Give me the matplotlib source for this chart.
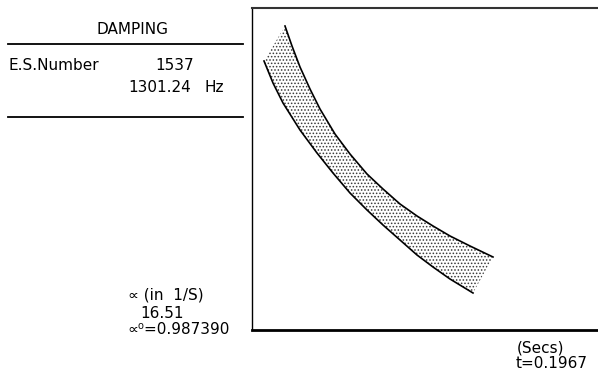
import matplotlib
matplotlib.use("Agg")
import matplotlib.pyplot as plt
import numpy as np

# Damping envelope: upper and lower bounding curves (time units, amplitude units)
upper_t = [33, 40, 48, 58, 68, 83, 98, 115, 131, 148, 165, 181, 198, 218, 241]
upper_a = [304, 284, 263, 241, 221, 196, 176, 156, 141, 126, 114, 104, 94, 84, 73]
lower_t = [12, 21, 31, 48, 65, 81, 98, 115, 131, 148, 165, 181, 198, 221]
lower_a = [269, 247, 227, 200, 177, 157, 137, 120, 105, 90, 75, 63, 51, 37]

header = "DAMPING"
es_label = "E.S.Number"
es_number = "1537"
frequency = "1301.24"
freq_unit = "Hz"
alpha_label = "\u221d (in  1/S)"
alpha_value = "16.51"
alpha0_text = "\u221d\u2070=0.987390"
time_unit = "(Secs)"
time_text = "t=0.1967"

W, H = 598, 379
fig = plt.figure(figsize=(W / 100, H / 100), dpi=100)
plt.rcParams["hatch.linewidth"] = 0.7


def fx(px):
    return px / W


def fy(py):
    return 1 - py / H


# Plot box (its right edge runs past the page)
left, top, bottom, right = 252, 8, 330, 661
ax = fig.add_axes([fx(left), fy(bottom), fx(right - left), fy(top) - fy(bottom)])
ax.set_xlim(0, right - left)
ax.set_ylim(0, bottom - top)
ax.set_xticks([])
ax.set_yticks([])
for side, lw in (("left", 1.0), ("top", 1.5), ("bottom", 2.0), ("right", 1.0)):
    ax.spines[side].set_linewidth(lw)
    ax.spines[side].set_color("black")
ax.spines["top"].set_color("#333333")

# Shaded band between the two curves
poly_t = list(upper_t) + list(lower_t[::-1])
poly_a = list(upper_a) + list(lower_a[::-1])
ax.fill(poly_t, poly_a, facecolor="none", edgecolor="#3a3a3a", hatch=".....",
        linewidth=0)

ax.plot(np.array(upper_t), np.array(upper_a), color="black", lw=1.2,
        solid_joinstyle="round")
ax.plot(np.array(lower_t), np.array(lower_a), color="black", lw=1.2,
        solid_joinstyle="round")

# Side panel text
fs = 11
fig.text(fx(132), fy(30), header, ha="center", va="center", fontsize=fs)
fig.add_artist(plt.Line2D([fx(8), fx(243)], [fy(44), fy(44)], color="black", lw=1.3))
fig.text(fx(8), fy(65), es_label, ha="left", va="center", fontsize=fs)
fig.text(fx(155), fy(65), es_number, ha="left", va="center", fontsize=fs)
fig.text(fx(128), fy(87), frequency, ha="left", va="center", fontsize=fs)
fig.text(fx(204), fy(87), freq_unit, ha="left", va="center", fontsize=fs)
fig.add_artist(plt.Line2D([fx(8), fx(243)], [fy(117), fy(117)], color="black", lw=1.3))

fig.text(fx(128), fy(295), alpha_label, ha="left", va="center", fontsize=fs)
fig.text(fx(140), fy(313), alpha_value, ha="left", va="center", fontsize=fs)
fig.text(fx(127), fy(330), alpha0_text, ha="left", va="center", fontsize=fs)

fig.text(fx(517), fy(348), time_unit, ha="left", va="center", fontsize=fs)
fig.text(fx(516), fy(363), time_text, ha="left", va="center", fontsize=fs)

fig.savefig("out.png", dpi=100)
